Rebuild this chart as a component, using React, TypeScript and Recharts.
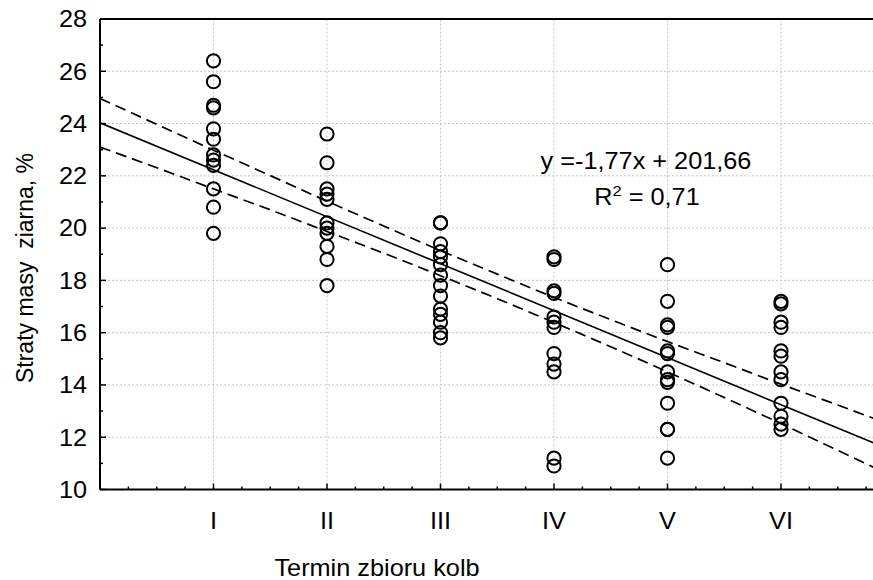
import { ComposedChart, Scatter, Line, XAxis, YAxis, ReferenceLine } from "recharts";

// harvest terms (x categories)
const terms = ["I", "II", "III", "IV", "V", "VI"];

// grain mass losses, % — read per harvest term
const lossI = [26.4, 25.6, 24.7, 24.6, 23.8, 23.4, 22.8, 22.6, 22.4, 21.5, 20.8, 19.8];
const lossII = [23.6, 22.5, 21.5, 21.3, 21.1, 20.2, 20.0, 19.8, 19.3, 18.8, 17.8];
const lossIII = [20.2, 20.2, 19.4, 19.1, 18.9, 18.6, 18.2, 17.8, 17.4, 16.9, 16.7, 16.4, 16.0, 15.8];
const lossIV = [18.9, 18.8, 17.6, 17.5, 16.6, 16.4, 16.2, 15.2, 14.8, 14.5, 11.2, 10.9];
const lossV = [18.6, 17.2, 16.3, 16.2, 15.3, 15.2, 14.5, 14.2, 14.1, 13.3, 12.3, 12.3, 11.2];
const lossVI = [17.2, 17.1, 16.4, 16.2, 15.3, 15.1, 14.5, 14.2, 13.3, 12.8, 12.5, 12.3];

// fitted line and its confidence band
const fitX = [0, 7];
const fitY = [24.03, 11.45];
const bandX = [0, 0.5, 1, 1.5, 2, 2.5, 3, 3.5, 4, 4.5, 5, 5.5, 6, 6.5, 7];
const bandUpper = [24.96, 23.97, 22.98, 22.01, 21.03, 20.08, 19.14, 18.24, 17.35, 16.5, 15.66, 14.85, 14.03, 13.23, 12.43];
const bandLower = [23.1, 22.31, 21.5, 20.7, 19.87, 19.04, 18.18, 17.3, 16.39, 15.46, 14.5, 13.52, 12.52, 11.5, 10.47];

const yTicks = [10, 11, 12, 13, 14, 15, 16, 17, 18, 19, 20, 21, 22, 23, 24, 25, 26, 27, 28];
const yGrid = [12, 14, 16, 18, 20, 22, 24, 26];
const xTicks = Array.from({ length: 29 }, (_, i) => i * 0.25);

const groups = [lossI, lossII, lossIII, lossIV, lossV, lossVI];
const points = groups.flatMap((vals, i) => vals.map((y) => ({ x: i + 1, y })));
const fitData = fitX.map((x, i) => ({ x, v: fitY[i] }));
const upperData = bandX.map((x, i) => ({ x, v: bandUpper[i] }));
const lowerData = bandX.map((x, i) => ({ x, v: bandLower[i] }));

const FONT = "'Liberation Sans', Arial, sans-serif";
const FS = 23;
const SX = 1.1; // text in the reference is a bit wider than tall

function Txt({ x, y, anchor = "middle", dy, children }: any) {
  return (
    <text
      transform={`translate(${x} ${y}) scale(${SX} 1)`}
      dy={dy}
      textAnchor={anchor}
      fontSize={FS}
      fontFamily={FONT}
      fill="#000"
    >
      {children}
    </text>
  );
}

function YTick({ x, y, payload }: any) {
  const major = payload.value % 2 === 0;
  const ax = x + 13;
  return (
    <g>
      <line x1={ax} x2={ax + (major ? 6 : 3)} y1={y} y2={y} stroke="#000" strokeWidth={1.5} />
      {major && (
        <Txt x={x} y={y} dy="0.36em" anchor="end">
          {payload.value}
        </Txt>
      )}
    </g>
  );
}

function XTick({ x, y, payload }: any) {
  const v = payload.value;
  const major = Number.isInteger(v);
  const ay = y - 23;
  return (
    <g>
      <line x1={x} x2={x} y1={ay} y2={ay - (major ? 6 : 3)} stroke="#000" strokeWidth={1.5} />
      {major && v >= 1 && v <= 6 && (
        <Txt x={x} y={y} dy="0.71em">
          {terms[v - 1]}
        </Txt>
      )}
    </g>
  );
}

function TopTick({ x, y, payload }: any) {
  const major = Number.isInteger(payload.value);
  return <line x1={x} x2={x} y1={y} y2={y + (major ? 6 : 3)} stroke="#000" strokeWidth={1.5} />;
}

const circle = (p: any) => (
  <circle cx={p.cx} cy={p.cy} r={6.6} fill="none" stroke="#000" strokeWidth={2} />
);

export default function App() {
  return (
    <div style={{ position: "fixed", left: 0, top: 0, width: 873, height: 580, overflow: "hidden", background: "#fff" }}>
      <ComposedChart width={900} height={580} margin={{ top: 0, right: 5.5, bottom: 0, left: 0 }}>
        <XAxis
          dataKey="x"
          type="number"
          domain={[0, 7]}
          ticks={xTicks}
          interval={0}
          height={90.5}
          tickSize={0}
          tickMargin={23}
          tickLine={false}
          tick={<XTick />}
          axisLine={{ stroke: "#000", strokeWidth: 2 }}
          allowDataOverflow
        />
        <XAxis
          xAxisId="top"
          orientation="top"
          type="number"
          domain={[0, 7]}
          ticks={xTicks}
          interval={0}
          height={19}
          tickSize={0}
          tickMargin={0}
          tickLine={false}
          tick={<TopTick />}
          axisLine={{ stroke: "#000", strokeWidth: 2 }}
          allowDataOverflow
        />
        <YAxis
          type="number"
          domain={[10, 28]}
          ticks={yTicks}
          interval={0}
          width={100}
          tickSize={0}
          tickMargin={13}
          tickLine={false}
          tick={<YTick />}
          axisLine={{ stroke: "#000", strokeWidth: 2 }}
          allowDataOverflow
        />
        {yGrid.map((v) => (
          <ReferenceLine key={"h" + v} y={v} stroke="#c4c4c4" strokeDasharray="2 2" />
        ))}
        {terms.map((t, i) => (
          <ReferenceLine key={"v" + t} x={i + 1} stroke="#c4c4c4" strokeDasharray="2 2" />
        ))}
        <Line data={upperData} dataKey="v" type="monotone" stroke="#000" strokeWidth={1.7} strokeDasharray="11 6" dot={false} isAnimationActive={false} />
        <Line data={lowerData} dataKey="v" type="monotone" stroke="#000" strokeWidth={1.7} strokeDasharray="11 6" dot={false} isAnimationActive={false} />
        <Line data={fitData} dataKey="v" type="linear" stroke="#000" strokeWidth={1.6} dot={false} isAnimationActive={false} />
        <Scatter data={points} dataKey="y" shape={circle} isAnimationActive={false} />
      </ComposedChart>
      <svg width={873} height={580} style={{ position: "absolute", left: 0, top: 0, pointerEvents: "none" }}>
        <text
          x={25}
          y={268}
          fontSize={FS}
          fontFamily={FONT}
          fill="#000"
          textAnchor="middle"
          dominantBaseline="central"
          transform="rotate(-90 25 268)"
          style={{ whiteSpace: "pre" }}
        >
          {"Straty masy  ziarna, %"}
        </text>
        <Txt x={377} y={576}>Termin zbioru kolb</Txt>
        <Txt x={646} y={169}>y =-1,77x + 201,66</Txt>
        <Txt x={647} y={205}>
          <tspan>R</tspan>
          <tspan dy={-9} fontSize={15}>2</tspan>
          <tspan dy={9}> = 0,71</tspan>
        </Txt>
      </svg>
    </div>
  );
}
